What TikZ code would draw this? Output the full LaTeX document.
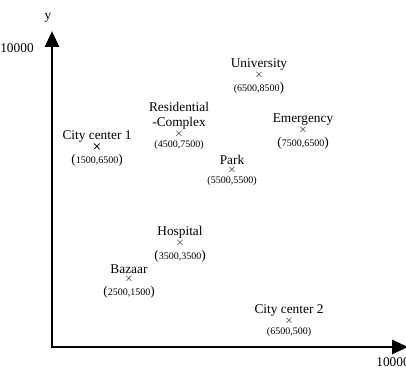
\documentclass[tikz,border=0pt]{standalone}
\usepackage{amsmath}
\usepackage{fontspec}
\setmainfont{Liberation Serif}
\usetikzlibrary{arrows.meta, positioning}
\tikzstyle{place} = [font=\fontsize{10}{11}\selectfont, inner sep=0pt, align=center]
\tikzstyle{coord} = [font=\fontsize{7.5}{9}\selectfont, inner sep=0pt]
\tikzstyle{cross} = [font=\fontsize{8}{9}\selectfont, inner sep=0pt]
\tikzstyle{axis} = [line width=2.2pt, -{Triangle[length=12pt, width=10.5pt]}]
\newcommand{\bp}[1]{{\fontsize{10}{11}\selectfont #1}}

\begin{document}
\begin{tikzpicture}[x=0.75pt, y=-0.75pt]
	\useasboundingbox (0,0) rectangle (406,367);
	\coordinate (o) at (52,347);
	\coordinate (ytip) at (52,31);
	\coordinate (xtip) at (408,347);
	\draw[axis] ([yshift=-1.1pt]o) -- (ytip);
	\draw[axis] ([xshift=-1.1pt]o) -- (xtip);
	\node[place] (ylab) at (48,18) {y};
	\node[place] (ymax) at (17,48) {10000};
	\node[place] (xmax) at (393,362) {10000};
	% places: name / x / y of the cross / label / coordinates
	\foreach \n/\x/\y/\t/\c in {
		{cc1/97/147/City center 1/\bp{(}1500,6500\bp{)}},
		{res/179/134/Residential\\-Complex/(4500,7500)},
		{uni/259/75/University/(6500,8500\bp{)}},
		{emg/303/130/Emergency/\bp{(}7500,6500\bp{)}},
		{park/232/170/Park/(5500,5500)},
		{hosp/180/243/Hospital/\bp{(}3500,3500\bp{)}},
		{baz/129/279/Bazaar/\bp{(}2500,1500\bp{)}},
		{cc2/289/321/City center 2/(6500,500)}}
	{
		\node[cross] (\n) at (\x,\y) {$\times$};
		\node[place, above=0.6pt of \n] (\n-l) {\t};
		\node[coord, below=2pt of \n] (\n-c) {\c};
	}
	\node[cross] at (cc1) {$\boldsymbol{\times}$};
\end{tikzpicture}
\end{document}
